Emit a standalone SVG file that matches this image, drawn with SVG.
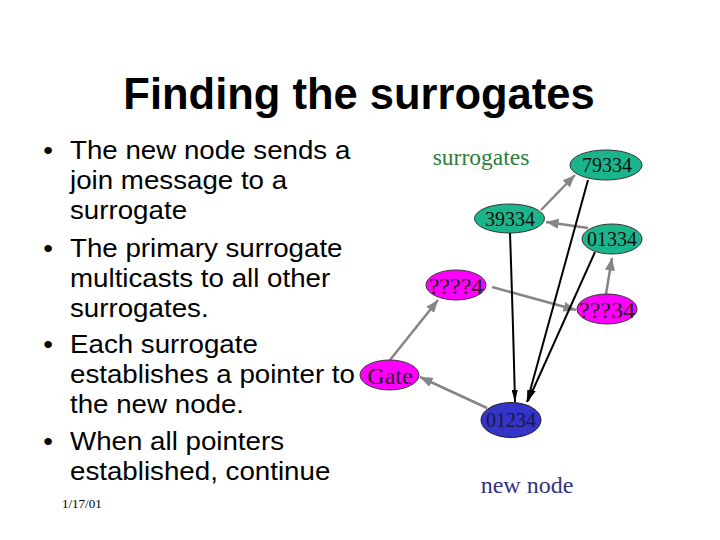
<svg xmlns="http://www.w3.org/2000/svg" width="720" height="540" viewBox="0 0 720 540">
<defs>
<style>
.title{font-family:"Liberation Sans",Arial,sans-serif;font-weight:bold;font-size:43.5px;fill:#000}
.body{font-family:"Liberation Sans",Arial,sans-serif;font-size:26px;fill:#000}
.lbl{font-family:"Liberation Serif","Times New Roman",serif;text-anchor:middle}
.num{font-size:20px;fill:#111}
.big{font-size:24px;fill:#222}
.teal{fill:#1ab58b;stroke:#333;stroke-width:1}
.mag{fill:#f0f;stroke:#333;stroke-width:1}
.blue{fill:#3434c8;stroke:#222;stroke-width:1}
.g{stroke:#858585;stroke-width:2.5;fill:none;marker-end:url(#ga)}
.k{stroke:#000;stroke-width:2;fill:none;marker-end:url(#ka)}
</style>
<marker id="ga" viewBox="0 0 10 8" refX="10" refY="4" markerWidth="5" markerHeight="4" orient="auto" markerUnits="strokeWidth">
<path d="M0,0 L10,4 L0,8 z" fill="#858585"/>
</marker>
<marker id="ka" viewBox="0 0 12 6" refX="12" refY="3" markerWidth="6" markerHeight="3" orient="auto" markerUnits="strokeWidth">
<path d="M0,0 L12,3 L0,6 z" fill="#000"/>
</marker>
</defs>
<rect width="720" height="540" fill="#fff"/>
<text class="title" x="359" y="109" text-anchor="middle">Finding the surrogates</text>
<g id="bullets" transform="translate(70 0) scale(1.066 1)" class="body">
<text x="-25" y="159">•</text>
<text x="0" y="159">The new node sends a</text>
<text x="0" y="189">join message to a</text>
<text x="0" y="219">surrogate</text>
<text x="-25" y="257">•</text>
<text x="0" y="257">The primary surrogate</text>
<text x="0" y="287">multicasts to all other</text>
<text x="0" y="317">surrogates.</text>
<text x="-25" y="353">•</text>
<text x="0" y="353">Each surrogate</text>
<text x="0" y="383">establishes a pointer to</text>
<text x="0" y="413">the new node.</text>
<text x="-25" y="450">•</text>
<text x="0" y="450">When all pointers</text>
<text x="0" y="480">established, continue</text>
</g>
<text x="62" y="508" style="font-family:'Liberation Serif','Times New Roman',serif;font-size:13px;fill:#000">1/17/01</text>
<text class="lbl" x="481" y="165" style="font-size:23.5px;fill:#2a7d3a;text-anchor:middle" text-anchor="middle">surrogates</text>
<text class="lbl" x="527" y="493" style="font-size:24px;fill:#333380">new node</text>
<g id="connectors">
<line class="g" x1="541" y1="210" x2="575" y2="175"/>
<line class="g" x1="588" y1="228" x2="546" y2="222"/>
<line class="g" x1="606" y1="294" x2="612" y2="258"/>
<line class="g" x1="492" y1="287" x2="576" y2="310"/>
<line class="g" x1="390" y1="360" x2="438" y2="300"/>
<line class="g" x1="487" y1="408" x2="420" y2="377"/>
<path class="k" d="M510,233 Q513,320 515,402"/>
<line class="k" x1="588" y1="180" x2="527" y2="402"/>
<line class="k" x1="595" y1="252" x2="528" y2="401"/>
</g>
<g id="n79334"><ellipse class="teal" cx="606" cy="165" rx="36" ry="15"/><text class="lbl num" x="607" y="172">79334</text></g>
<g id="n39334"><ellipse class="teal" cx="509.5" cy="218.5" rx="35" ry="14.5"/><text class="lbl num" x="510" y="226">39334</text></g>
<g id="n01334"><ellipse class="teal" cx="612" cy="239" rx="30" ry="15"/><text class="lbl num" x="612" y="246">01334</text></g>
<g id="n4"><ellipse class="mag" cx="456" cy="285" rx="30" ry="15"/><text class="lbl big" x="456" y="294">????4</text></g>
<g id="n34"><ellipse class="mag" cx="607" cy="309" rx="30" ry="15"/><text class="lbl big" x="607" y="318">???34</text></g>
<g id="gate"><ellipse class="mag" cx="389.5" cy="375" rx="29.5" ry="15"/><text class="lbl big" x="390" y="384">Gate</text></g>
<g id="n01234"><ellipse class="blue" cx="511" cy="420" rx="30" ry="17.5"/><text class="lbl num" x="511" y="427" style="fill:#1a1a40">01234</text></g>
</svg>
